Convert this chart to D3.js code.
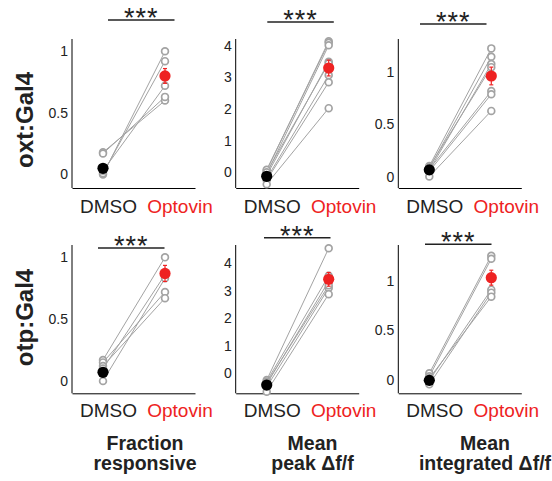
<!DOCTYPE html>
<html>
<head>
<meta charset="utf-8">
<script src="https://cdn.jsdelivr.net/npm/d3@7"></script>
<style>
  html, body { margin: 0; padding: 0; background: #fff; }
  svg { display: block; font-family: "Liberation Sans", Arial, Helvetica, sans-serif; }
</style>
</head>
<body>
<svg id="chart" width="552" height="481"></svg>
<script>
// Paired measurements per fish: DMSO vs Optovin, two driver lines × three metrics
const conditions = ["DMSO", "Optovin"];
const rowLabels = ["oxt:Gal4", "otp:Gal4"];
const metricTitles = [["Fraction", "responsive"], ["Mean", "peak \u0394f/f"], ["Mean", "integrated \u0394f/f"]];
const significance = "***";

// oxt:Gal4
const fracOxtDmso = [0.18, 0.17, 0.00, 0.01, 0.03];
const fracOxtOpto = [0.60, 0.63, 1.00, 0.92, 0.72];
const peakOxtDmso = [0.05, 0.08, -0.05, -0.10, -0.20, -0.25, -0.38, 0.00];
const peakOxtOpto = [4.15, 4.10, 4.02, 3.50, 3.07, 2.85, 2.03, 3.45];
const intOxtDmso = [0.10, 0.08, 0.06, 0.09, 0.07, 0.05, 0.00];
const intOxtOpto = [1.23, 1.15, 1.08, 1.05, 0.82, 0.79, 0.63];

// otp:Gal4
const fracOtpDmso = [0.17, 0.15, 0.12, 0.00, 0.10];
const fracOtpOpto = [1.00, 0.72, 0.67, 0.83, 0.86];
const peakOtpDmso = [-0.25, -0.30, -0.40, -0.50, -0.67, -0.35];
const peakOtpOpto = [4.55, 3.55, 3.35, 3.10, 2.88, 3.20];
const intOtpDmso = [0.07, 0.04, 0.00, -0.04, 0.02];
const intOtpOpto = [1.25, 1.22, 0.91, 0.88, 0.84];

// group means and SEM: [DMSO, Optovin]
const fracOxtMean = [0.05, 0.80], fracOxtSem = [0.03, 0.06];
const peakOxtMean = [-0.13, 3.30], peakOxtSem = [0.06, 0.25];
const intOxtMean = [0.064, 0.965], intOxtSem = [0.01, 0.085];
const fracOtpMean = [0.07, 0.87], fracOtpSem = [0.03, 0.065];
const peakOtpMean = [-0.43, 3.42], peakOtpSem = [0.06, 0.25];
const intOtpMean = [0.00, 1.03], intOtpSem = [0.015, 0.075];

// axis ranges and ticks
const yDomains = [
  [[-0.11, 1.1], [-0.5, 4.22], [-0.11, 1.32]],
  [[-0.1, 1.1], [-0.73, 4.67], [-0.13, 1.358]]
];
const yTicks = [[0, 0.5, 1], [0, 1, 2, 3, 4], [0, 0.5, 1]];

const panels = [
  [
    { dmso: fracOxtDmso, opto: fracOxtOpto, mean: fracOxtMean, sem: fracOxtSem },
    { dmso: peakOxtDmso, opto: peakOxtOpto, mean: peakOxtMean, sem: peakOxtSem },
    { dmso: intOxtDmso, opto: intOxtOpto, mean: intOxtMean, sem: intOxtSem }
  ],
  [
    { dmso: fracOtpDmso, opto: fracOtpOpto, mean: fracOtpMean, sem: fracOtpSem },
    { dmso: peakOtpDmso, opto: peakOtpOpto, mean: peakOtpMean, sem: peakOtpSem },
    { dmso: intOtpDmso, opto: intOtpOpto, mean: intOtpMean, sem: intOtpSem }
  ]
];

// layout
const colAxisX = [72, 235.7, 398.3];
const axisWidth = 123;
const rowTop = [39, 245];
const rowBottom = [188, 393.3];
const catLeft = 31, catRight = 93;
const condLabelY = [213, 417];
const condLabelDx = [36.5, 108];
const barY = [[20, 22, 24], [248, 237.7, 244.3]];
const barX0 = [[36, 31.6, 21.7], [26, 28.3, 26.7]];
const barLen = 66.5;
const titleX = [145, 312.5, 485];
const titleY = [449.5, 469.5];
const rowLabelPos = [[33, 120], [33, 317.5]];

const grey = "#a3a3a3";
const red = "#ee2222";
const fmt = d => d3.format("~g")(d);

const svg = d3.select("#chart");

panels.forEach((row, r) => {
  row.forEach((p, c) => {
    const ax = colAxisX[c];
    const x = d3.scalePoint().domain(conditions).range([ax + catLeft, ax + catRight]);
    const y = d3.scaleLinear().domain(yDomains[r][c]).range([rowBottom[r], rowTop[r]]);
    const g = svg.append("g");

    // y axis: line + labels, no tick marks
    const yAxis = d3.axisLeft(y).tickValues(yTicks[c]).tickSize(0).tickPadding(4).tickFormat(fmt);
    const ya = g.append("g").attr("transform", `translate(${ax},0)`).call(yAxis);
    ya.select(".domain").attr("stroke", "#000").attr("stroke-width", 1)
      .attr("d", `M0,${rowTop[r]}V${rowBottom[r]}`);
    ya.selectAll("text").attr("font-size", 14).attr("fill", "#222")
      .attr("font-family", "Liberation Sans, Arial, sans-serif");

    // x axis baseline
    const xa = g.append("g").attr("transform", `translate(0,${rowBottom[r]})`)
      .call(d3.axisBottom(d3.scaleLinear().range([ax, ax + axisWidth])).tickValues([]).tickSizeOuter(0));
    xa.select(".domain").attr("stroke", "#000").attr("stroke-width", 1);

    // condition labels
    conditions.forEach((cond, i) => {
      g.append("text")
        .attr("x", ax + condLabelDx[i]).attr("y", condLabelY[r])
        .attr("text-anchor", "middle").attr("font-size", 19)
        .attr("fill", i === 0 ? "#222" : red)
        .text(cond);
    });

    // paired lines
    const pairs = p.dmso.map((v, i) => [v, p.opto[i]]);
    g.selectAll("line.pair").data(pairs).join("line")
      .attr("class", "pair")
      .attr("x1", x("DMSO")).attr("y1", d => y(d[0]))
      .attr("x2", x("Optovin")).attr("y2", d => y(d[1]))
      .attr("stroke", grey).attr("stroke-width", 1);

    // individual points
    const pts = [];
    p.dmso.forEach(v => pts.push(["DMSO", v]));
    p.opto.forEach(v => pts.push(["Optovin", v]));
    g.selectAll("circle.ind").data(pts).join("circle")
      .attr("class", "ind")
      .attr("cx", d => x(d[0])).attr("cy", d => y(d[1])).attr("r", 3.4)
      .attr("fill", "#fff").attr("stroke", grey).attr("stroke-width", 1.7);

    // mean ± SEM
    conditions.forEach((cond, i) => {
      const col = i === 0 ? "#000" : red;
      const m = p.mean[i], s = p.sem[i];
      const cx = x(cond);
      g.append("line").attr("x1", cx).attr("x2", cx)
        .attr("y1", y(m - s)).attr("y2", y(m + s))
        .attr("stroke", col).attr("stroke-width", 1.2);
      [m - s, m + s].forEach(v => {
        g.append("line").attr("x1", cx - 2).attr("x2", cx + 2)
          .attr("y1", y(v)).attr("y2", y(v))
          .attr("stroke", col).attr("stroke-width", 1.2);
      });
      g.append("circle").attr("cx", cx).attr("cy", y(m)).attr("r", 5.6).attr("fill", col);
    });

    // significance bar
    const bx = ax + barX0[r][c];
    const by = barY[r][c];
    g.append("line").attr("x1", bx).attr("x2", bx + barLen)
      .attr("y1", by).attr("y2", by).attr("stroke", "#222").attr("stroke-width", 1.5);
    g.append("text").attr("x", bx + barLen / 2).attr("y", by + 7)
      .attr("text-anchor", "middle").attr("font-size", 27).attr("fill", "#222")
      .attr("letter-spacing", 1)
      .text(significance);
  });

  // row label
  svg.append("text")
    .attr("transform", `translate(${rowLabelPos[r][0]},${rowLabelPos[r][1]}) rotate(-90)`)
    .attr("text-anchor", "middle").attr("font-size", 24).attr("font-weight", "bold")
    .attr("fill", "#222")
    .text(rowLabels[r]);
});

// metric titles under the bottom row
metricTitles.forEach((lines, c) => {
  lines.forEach((t, k) => {
    svg.append("text")
      .attr("x", titleX[c]).attr("y", titleY[k])
      .attr("text-anchor", "middle").attr("font-size", 19.5).attr("font-weight", "bold")
      .attr("fill", "#222")
      .text(t);
  });
});
</script>
</body>
</html>
